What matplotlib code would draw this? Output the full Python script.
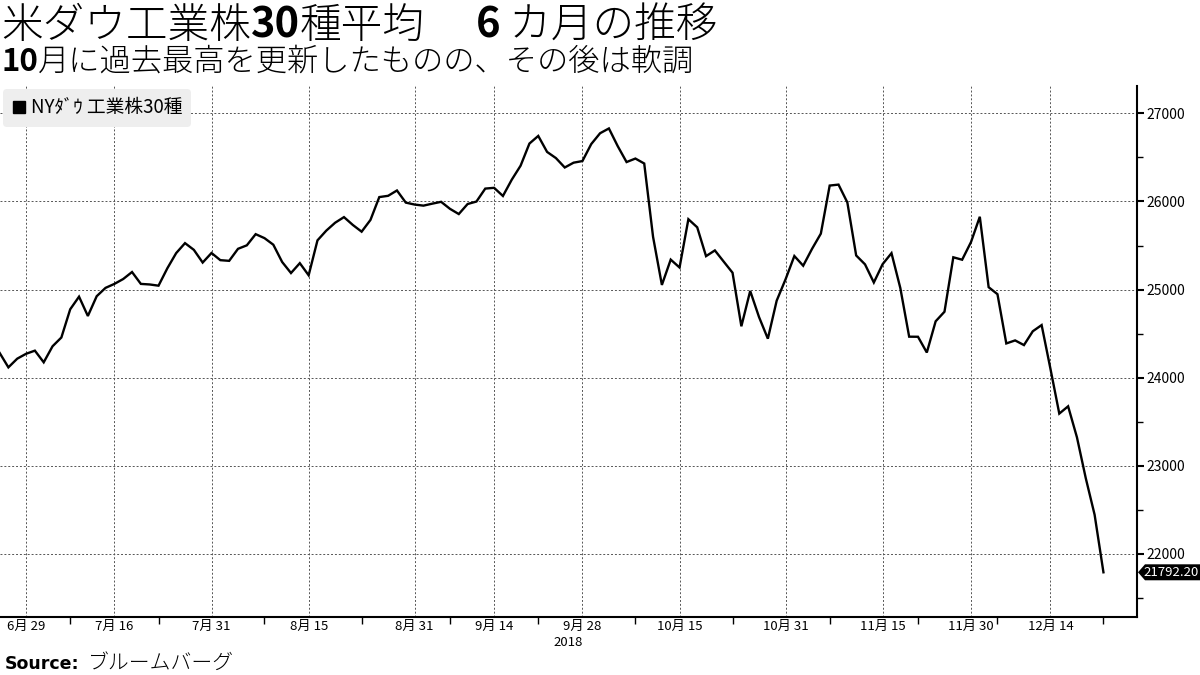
import matplotlib
matplotlib.use("Agg")
import matplotlib.pyplot as plt
import numpy as np
import pandas as pd
from matplotlib.lines import Line2D
from matplotlib.patches import Polygon

# ---------------- data ----------------
holidays = ["2018-07-04", "2018-09-03", "2018-11-22", "2018-12-05"]
dates = [d for d in pd.bdate_range("2018-06-26", "2018-12-24") if d.strftime("%Y-%m-%d") not in holidays]

closes = [
    24283.11, 24117.59, 24216.05, 24271.41,
    24307.18, 24174.82, 24356.74, 24456.48, 24776.59, 24919.66, 24700.45, 24924.89, 25019.41, 25064.36,
    25119.89, 25199.29, 25064.50, 25058.12, 25044.29, 25241.94, 25414.10, 25527.07, 25451.06, 25306.83, 25415.19,
    25333.82, 25326.16, 25462.58, 25502.18, 25628.91, 25583.75, 25509.23, 25313.14, 25187.70, 25299.92,
    25162.41, 25558.73, 25669.32, 25758.69, 25822.29, 25733.60, 25656.98, 25790.35, 26049.64, 26064.02,
    26124.57, 25986.92, 25964.82,
    25952.48, 25974.99, 25995.87, 25916.54, 25857.07, 25971.06, 25998.92, 26145.99, 26154.67, 26062.12,
    26246.96, 26405.76, 26656.98, 26743.50, 26562.05, 26492.21, 26385.28, 26439.93, 26458.31,
    26651.21, 26773.94, 26828.39, 26627.48, 26447.05, 26486.78, 26430.57, 25598.74, 25052.83, 25339.99,
    25250.55, 25798.42, 25706.68, 25379.45, 25444.34, 25317.41, 25191.43, 24583.42, 24984.55, 24688.31,
    24442.92, 24874.64, 25115.76,
    25380.74, 25270.83, 25461.70, 25635.01, 26180.30, 26191.22, 25989.30, 25387.18, 25286.49, 25080.50,
    25289.27, 25413.22, 25017.44, 24465.64, 24464.69, 24285.95, 24640.24, 24748.73, 25366.43, 25338.84,
    25538.46,
    25826.43, 25027.07, 24947.67, 24388.95, 24423.26, 24370.24, 24527.27, 24597.38, 24100.51, 23592.98,
    23675.64, 23323.66, 22859.60, 22445.37, 21792.20,
]

label_dates = ["2018-06-29", "2018-07-16", "2018-07-31", "2018-08-15", "2018-08-31", "2018-09-14",
               "2018-09-28", "2018-10-15", "2018-10-31", "2018-11-15", "2018-11-30", "2018-12-14"]
minor_dates = ["2018-07-09", "2018-07-23", "2018-08-08", "2018-08-23", "2018-09-07", "2018-09-21",
               "2018-10-08", "2018-10-23", "2018-11-07", "2018-11-21", "2018-12-06", "2018-12-24"]
y_ticks = [22000, 23000, 24000, 25000, 26000, 27000]
series_label = "NYﾀﾞｳ 工業株30種"
last_label = "21792.20"
year_label = "2018"

# ---------------- figure ----------------
CJK = ["Noto Sans CJK JP", "DejaVu Sans"]
plt.rcParams["font.family"] = CJK

W, H = 1200, 675
fig = plt.figure(figsize=(12, 6.75), dpi=100)
ax = fig.add_axes([0, 1 - 617 / H, 1137 / W, (617 - 86) / H])

date_str = [d.strftime("%Y-%m-%d") for d in dates]
x = np.arange(len(closes))
ax.plot(x, closes, color="black", linewidth=1.7, solid_joinstyle="miter")

ax.set_xlim(0.05, 128.8)
ax.set_ylim(21285, 27310)

# x ticks
maj_pos = [date_str.index(d) for d in label_dates]
maj_lab = [f"{int(d[5:7])}月 {int(d[8:10])}" for d in label_dates]
ax.set_xticks(maj_pos)
ax.set_xticklabels(maj_lab, fontsize=9.5)
ax.set_xticks([date_str.index(d) for d in minor_dates], minor=True)
ax.tick_params(axis="x", which="major", length=0, pad=2)
ax.tick_params(axis="x", which="minor", length=5, width=1, direction="out", color="black")

# y ticks right
ax.yaxis.tick_right()
ax.set_yticks(y_ticks)
ax.set_yticklabels([str(v) for v in y_ticks], fontsize=10)
ax.set_yticks(np.arange(21500, 27500, 500), minor=True)
ax.tick_params(axis="y", which="major", length=5, width=1.5, direction="out", pad=2)
ax.tick_params(axis="y", which="minor", length=4, width=1, direction="out")

ax.grid(True, which="major", linestyle=(0, (2, 2)), color="#555555", linewidth=0.7)

for s in ["left", "top"]:
    ax.spines[s].set_visible(False)
for s in ["bottom", "right"]:
    ax.spines[s].set_linewidth(1.5)
    ax.spines[s].set_color("black")

# year label
ax.annotate(year_label, xy=(date_str.index("2018-09-28"), 0), xycoords=("data", "axes fraction"),
            xytext=(0, -25), textcoords="offset pixels", ha="right", va="center", fontsize=9.5)

# legend
leg = ax.legend(handles=[Line2D([], [], marker="s", color="black", linestyle="None", markersize=8.5)],
                labels=[series_label], loc="upper left", frameon=True, fancybox=True,
                facecolor="#eeeeee", edgecolor="none", framealpha=1, borderaxespad=0.15,
                handletextpad=0.25, handlelength=0.8, borderpad=0.45,
                prop={"family": CJK, "size": 13.5})

# end value tag
fig.canvas.draw()
yv = ax.transData.transform((0, closes[-1]))[1]
xs = 1138
hh = 8
poly = Polygon([[xs / W, yv / H], [(xs + 7) / W, (yv + hh) / H], [1200 / W, (yv + hh) / H],
                [1200 / W, (yv - hh) / H], [(xs + 7) / W, (yv - hh) / H]],
               closed=True, transform=fig.transFigure, facecolor="black", edgecolor="none")
fig.patches.append(poly)
fig.text(1171 / W, yv / H, last_label, color="white", ha="center", va="center", fontsize=9.5)

# ---------------- title runs ----------------
renderer = fig.canvas.get_renderer()


def runs(x_px, base_px, items):
    xp = x_px
    for txt, size, weight in items:
        t = fig.text(xp / W, 1 - base_px / H, txt, fontsize=size, fontweight=weight,
                     va="baseline", ha="left", family=CJK)
        bb = t.get_window_extent(renderer=renderer)
        xp += bb.width


runs(1, 38, [("米ダウ工業株", 30, "light"), ("30", 30, "bold"), ("種平均", 30, "light"),
             ("　 ", 30, "light"), ("6", 30, "bold"), (" カ月の推移", 30, "light")])
runs(1, 71, [("10", 22.5, "bold"), ("月に過去最高を更新したものの、その後は軟調", 22.5, "light")])

fig.text(5 / W, 1 - 669 / H, "Source:", fontsize=12.5, fontweight="bold", family="DejaVu Sans",
         va="baseline", ha="left")
fig.text(88 / W, 1 - 669 / H, "ブルームバーグ", fontsize=15, fontweight="light", family=CJK,
         va="baseline", ha="left")

fig.savefig("out.png", dpi=100, facecolor="white")
